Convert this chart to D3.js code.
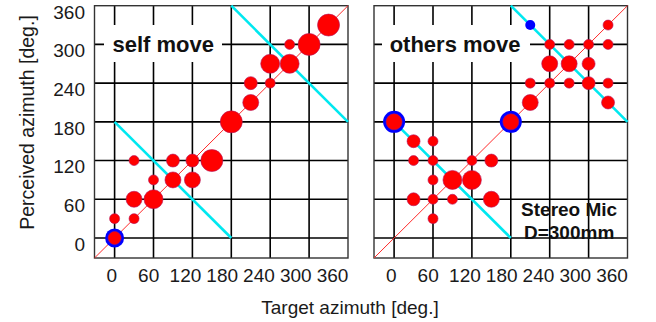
<!DOCTYPE html>
<html>
<head>
<meta charset="utf-8">
<script src="https://cdn.jsdelivr.net/npm/d3@7"></script>
<style>
  body { margin: 0; background: #fff; }
  svg { display: block; font-family: "Liberation Sans", Arial, sans-serif; }
</style>
</head>
<body>
<div id="chart"></div>
<script>
// tick values shared by both axes
const ticks = [0, 60, 120, 180, 240, 300, 360];

// self move: red markers
const selfTarget    = [0, 0, 30, 30, 60, 60, 30, 90, 90, 120, 120, 150, 180, 210, 210, 240, 240, 270, 270, 300, 330];
const selfPerceived = [0, 30, 30, 60, 60, 90, 120, 90, 120, 120, 90, 120, 180, 210, 240, 240, 270, 270, 300, 300, 330];
const selfCount     = [2, 1, 1, 3, 4, 1, 1, 3, 2, 2, 3, 5, 5, 3, 2, 1, 4, 4, 1, 5, 5];
// self move: blue markers
const selfBlueTarget    = [0];
const selfBluePerceived = [0];
const selfBlueCount     = [4];

// others move: red markers
const othersTarget    = [30, 60, 30, 60, 120, 150, 60, 90, 120, 30, 60, 90, 150, 60,
                         330, 240, 270, 300, 330, 240, 270, 300, 210, 240, 270, 300, 330, 210, 330, 0, 180];
const othersPerceived = [150, 150, 120, 120, 120, 120, 90, 90, 90, 60, 60, 60, 60, 30,
                         330, 300, 300, 300, 300, 270, 270, 270, 240, 240, 240, 240, 240, 210, 210, 180, 180];
const othersCount     = [2, 1, 1, 1, 1, 2, 1, 4, 4, 2, 1, 1, 3, 1,
                         1, 1, 1, 1, 1, 3, 3, 2, 1, 1, 1, 2, 1, 3, 2, 3, 3];
// others move: blue markers
const othersBlueTarget    = [0, 180, 210];
const othersBluePerceived = [180, 180, 330];
const othersBlueCount     = [5, 5, 1];

// reference lines
const cyanLines = [[[0, 180], [180, 0]], [[180, 360], [360, 180]]];

const width = 656, height = 322;
const plotTop = 5.7, plotBottom = 258;
const domain = [-31, 360];

const svg = d3.select("#chart").append("svg")
  .attr("width", width)
  .attr("height", height);

svg.append("rect").attr("width", width).attr("height", height).attr("fill", "#fff");

const y = d3.scaleLinear().domain(domain).range([plotBottom, plotTop]);
const r = d3.scaleLinear().domain([1, 5]).range([5, 11]);

function zip(xs, ys, ns) {
  return xs.map((v, i) => ({ t: v, p: ys[i], n: ns[i] }));
}

function drawPanel(x0, x1, red, blue, label) {
  let x = d3.scaleLinear().domain(domain).range([x0, x1]);
  let g = svg.append("g");

  // grid
  g.append("g").selectAll("line")
    .data(ticks.slice(0, -1))
    .enter().append("line")
    .attr("x1", d => x(d)).attr("x2", d => x(d))
    .attr("y1", plotTop).attr("y2", plotBottom)
    .attr("stroke", "#000").attr("stroke-width", 1.6);

  g.append("g").selectAll("line")
    .data(ticks.slice(0, -1))
    .enter().append("line")
    .attr("x1", x0).attr("x2", x1)
    .attr("y1", d => y(d)).attr("y2", d => y(d))
    .attr("stroke", "#000").attr("stroke-width", 1.6);

  g.append("rect")
    .attr("x", x0).attr("y", plotTop)
    .attr("width", x1 - x0).attr("height", plotBottom - plotTop)
    .attr("fill", "none")
    .attr("stroke", "#333").attr("stroke-width", 1.4);

  // label box hides the grid behind it
  g.append("rect")
    .attr("x", label.box[0]).attr("y", 25)
    .attr("width", label.box[1] - label.box[0]).attr("height", 37)
    .attr("fill", "#fff");

  g.append("text")
    .attr("x", x(label.at))
    .attr("y", y(300) + 8)
    .attr("text-anchor", "middle")
    .attr("font-size", 22)
    .attr("font-weight", "bold")
    .attr("fill", "#111")
    .text(label.text);

  const line = d3.line().x(d => x(d[0])).y(d => y(d[1]));

  g.append("g").selectAll("path")
    .data(cyanLines)
    .enter().append("path")
    .attr("d", line)
    .attr("stroke", "#00e8f0")
    .attr("stroke-width", 2.6)
    .attr("fill", "none");

  g.append("path")
    .attr("d", line([[domain[0], domain[0]], [360, 360]]))
    .attr("stroke", "#ff2a2a")
    .attr("stroke-width", 1)
    .attr("fill", "none");

  g.append("g").selectAll("circle")
    .data(blue)
    .enter().append("circle")
    .attr("cx", d => x(d.t)).attr("cy", d => y(d.p))
    .attr("r", d => r(d.n))
    .attr("fill", "#0000ff");

  g.append("g").selectAll("circle")
    .data(red)
    .enter().append("circle")
    .attr("cx", d => x(d.t)).attr("cy", d => y(d.p))
    .attr("r", d => r(d.n))
    .attr("fill", "#ff0000")
    .attr("stroke", "#b3135a")
    .attr("stroke-width", 0.6);

  // x tick labels (drift slightly left of their ticks as in the original)
  let xl = d3.scaleLinear().domain([0, 360]).range([x(0) - 2.7, x(360) - 15.5]);
  g.append("g").selectAll("text")
    .data(ticks)
    .enter().append("text")
    .attr("x", d => xl(d))
    .attr("y", 281.5)
    .attr("text-anchor", "middle")
    .attr("font-size", 19)
    .attr("fill", "#1a1a1a")
    .text(d => d);

  return x;
}

drawPanel(94.5, 348, zip(selfTarget, selfPerceived, selfCount),
  zip(selfBlueTarget, selfBluePerceived, selfBlueCount),
  { text: "self move", at: 75, box: [104, 222] });

const xr = drawPanel(374, 627.5, zip(othersTarget, othersPerceived, othersCount),
  zip(othersBlueTarget, othersBluePerceived, othersBlueCount),
  { text: "others move", at: 94, box: [382, 530] });

// y tick labels
svg.append("g").selectAll("text")
  .data(ticks)
  .enter().append("text")
  .attr("x", 85)
  .attr("y", d => y(d) + 12.8)
  .attr("text-anchor", "end")
  .attr("font-size", 19)
  .attr("fill", "#1a1a1a")
  .text(d => d);

// note in the right panel
svg.append("text")
  .attr("x", xr(270))
  .attr("y", y(0) - 22)
  .attr("text-anchor", "middle")
  .attr("font-size", 19)
  .attr("font-weight", "bold")
  .attr("fill", "#111")
  .selectAll("tspan")
  .data(["Stereo Mic", "D=300mm"])
  .enter().append("tspan")
  .attr("x", xr(270))
  .attr("dy", (d, i) => i ? 23.3 : 0)
  .text(d => d);

// axis titles
svg.append("text")
  .attr("x", 350)
  .attr("y", 314)
  .attr("text-anchor", "middle")
  .attr("font-size", 19)
  .attr("fill", "#1a1a1a")
  .text("Target azimuth [deg.]");

svg.append("text")
  .attr("transform", "translate(33.5,122.5) rotate(-90)")
  .attr("text-anchor", "middle")
  .attr("font-size", 19.5)
  .attr("fill", "#1a1a1a")
  .text("Perceived azimuth [deg.]");
</script>
</body>
</html>
